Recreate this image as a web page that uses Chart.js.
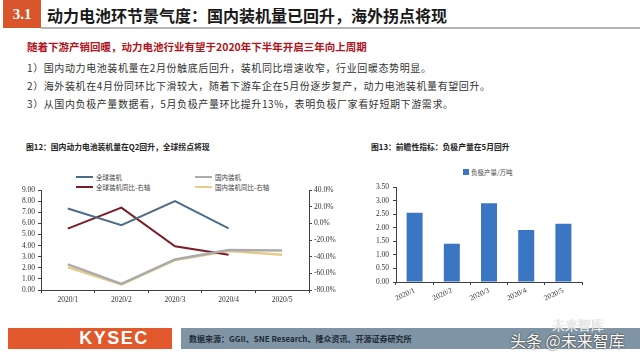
<!DOCTYPE html>
<html>
<head>
<meta charset="utf-8">
<script src="https://cdn.jsdelivr.net/npm/chart.js@4"></script>
<style>
  html, body { margin: 0; padding: 0; background: #fff; }
  #slide { position: relative; width: 640px; height: 360px; overflow: hidden; background: #fff;
    font-family: 'Noto Sans CJK SC', 'Liberation Serif', sans-serif; color: #222; }
  .abs { position: absolute; white-space: nowrap; }
  .secBox { left: 3px; top: 0; width: 38px; height: 28px; background: #d9552c; color: #fff;
    font: bold 15px 'Liberation Serif', serif; line-height: 28px; text-align: center; }
  .rule { left: 41px; top: 27px; width: 599px; height: 2px; background: #b5b5b5; }
  .title { left: 47px; top: 4px; font-size: 16px; font-weight: bold; color: #1a1a1a; line-height: 22px; }
  .lead { left: 27px; top: 40px; font-size: 10.5px; font-weight: bold; color: #b0141c; line-height: 14px; }
  .pt { left: 27px; font-size: 10px; color: #333; line-height: 14px; letter-spacing: 0.6px; }
  .figt { font-size: 7.8px; font-weight: bold; color: #222; line-height: 12px; }
  .lg { font-size: 6.5px; color: #444; line-height: 8px; }
  .sw { position: absolute; height: 2px; width: 17px; }
  canvas { position: absolute; }
  .kbox { left: 8px; top: 328px; width: 164px; height: 21px; background: #e0582b; color: #fff;
    font: bold 18px 'Liberation Sans', sans-serif; line-height: 21px; text-align: center; letter-spacing: 1.5px; }
  .kbox span { position: relative; left: 24px; }
  .src { left: 181px; top: 328px; width: 459px; height: 21px; background: #7f94a4; }
  .srct { left: 189px; top: 333px; font-size: 8px; font-weight: bold; color: #1e2a36; line-height: 11px; }
  .wm { left: 510px; top: 330px; font-size: 16px; color: #fff; line-height: 20px;
    text-shadow: 0 0 2px #333, 0 0 1px #333; }
  .wm2 { left: 552px; top: 317px; font-size: 13px; color: rgba(255,255,255,0.85); line-height: 16px;
    text-shadow: 0 0 1px #999; }
</style>
</head>
<body>
<div id="slide">
  <div class="abs secBox">3.1</div>
  <div class="abs rule"></div>
  <div class="abs title">动力电池环节景气度：国内装机量已回升，海外拐点将现</div>

  <div class="abs lead">随着下游产销回暖，动力电池行业有望于2020年下半年开启三年向上周期</div>
  <div class="abs pt" style="top:61px">1）国内动力电池装机量在2月份触底后回升，装机同比增速收窄，行业回暖态势明显。</div>
  <div class="abs pt" style="top:79px">2）海外装机在4月份同环比下滑较大，随着下游车企在5月份逐步复产，动力电池装机量有望回升。</div>
  <div class="abs pt" style="top:97px">3）从国内负极产量数据看，5月负极产量环比提升13%，表明负极厂家看好短期下游需求。</div>

  <div class="abs figt" style="left:26px;top:141px">图12：国内动力电池装机量在Q2回升，全球拐点将现</div>
  <div class="abs figt" style="left:371px;top:141px">图13：前瞻性指标：负极产量在5月回升</div>

  <div id="legendLeft"></div>
  <div id="legendRight"></div>

  <canvas id="lineChart" width="345" height="128" style="left:0;top:180px;width:345px;height:128px"></canvas>
  <canvas id="barChart" width="260" height="133" style="left:350px;top:177px;width:260px;height:133px"></canvas>

  <div class="abs kbox"><span>KYSEC</span></div>
  <div class="abs src"></div>
  <div class="abs srct">数据来源：GGII、SNE Research、隆众资讯、开源证券研究所</div>
  <div class="abs wm2">未来智库</div>
  <div class="abs wm">头条 @未来智库</div>
</div>

<script>
// ---- data ----
const months = ['2020/1', '2020/2', '2020/3', '2020/4', '2020/5'];
const globalInstall = [7.33, 5.83, 8.0, 5.55, null];     // 全球装机 (GWh)
const domesticInstall = [2.3, 0.55, 2.75, 3.6, 3.55];    // 国内装机 (GWh)
const globalYoY = [-6.4, 18.8, -27.6, -37.6, null];      // 全球装机同比 (%)
const domesticYoY = [-52.8, -73.2, -44.0, -33.2, -37.6]; // 国内装机同比 (%)
const anodeOutput = [2.55, 1.41, 2.9, 1.92, 2.15];       // 负极产量/万吨

const lineNames = ['全球装机', '国内装机', '全球装机同比-右轴', '国内装机同比-右轴'];
const barName = '负极产量/万吨';

const BLUEGRAY = '#4e6c88', GRAY = '#ababab', DARKRED = '#7a1c26', SAND = '#e6cc88', BAR = '#3a76c2';
const AXIS = '#404040';
const tickFont = { family: "'Liberation Serif', serif", size: 7.5 };

// ---- HTML legends ----
function legendItem(parent, x, y, color, text, square) {
  const sw = document.createElement('div');
  sw.className = 'sw';
  if (square) { sw.style.cssText = `left:${x}px;top:${y - 3}px;width:6px;height:6px;background:${color}`; }
  else { sw.style.cssText = `left:${x}px;top:${y - 1}px;background:${color}`; }
  parent.appendChild(sw);
  const t = document.createElement('div');
  t.className = 'abs lg';
  t.style.left = (x + (square ? 8 : 20)) + 'px';
  t.style.top = (y - 4) + 'px';
  t.textContent = text;
  parent.appendChild(t);
}
const legL = document.getElementById('legendLeft');
const lineColors = [BLUEGRAY, GRAY, DARKRED, SAND];
lineNames.forEach((n, i) => legendItem(legL, i % 2 ? 195 : 76, i < 2 ? 177 : 187, lineColors[i], n, false));
legendItem(document.getElementById('legendRight'), 463, 172, BAR, barName, true);

// ---- left: line chart, dual axis ----
new Chart(document.getElementById('lineChart'), {
  type: 'line',
  data: {
    labels: months,
    datasets: [
      { label: lineNames[0], data: globalInstall, yAxisID: 'y', borderColor: BLUEGRAY, borderWidth: 2 },
      { label: lineNames[1], data: domesticInstall, yAxisID: 'y', borderColor: GRAY, borderWidth: 2.5 },
      { label: lineNames[2], data: globalYoY, yAxisID: 'y1', borderColor: DARKRED, borderWidth: 2 },
      { label: lineNames[3], data: domesticYoY, yAxisID: 'y1', borderColor: SAND, borderWidth: 2.5 },
    ],
  },
  options: {
    responsive: false, animation: false,
    layout: { padding: { top: 10, left: 0, right: 0, bottom: 0 } },
    elements: { point: { radius: 0 }, line: { tension: 0 } },
    plugins: { legend: { display: false }, tooltip: { enabled: false } },
    scales: {
      x: {
        offset: true,
        grid: { offset: true, drawOnChartArea: false, tickLength: 3, color: AXIS },
        border: { color: AXIS },
        ticks: { font: tickFont, color: '#333', padding: 3, maxRotation: 0 },
        afterFit: (s) => { s.height = 18; },
      },
      y: {
        position: 'left', min: 0, max: 9,
        grid: { drawOnChartArea: false, tickLength: 3, color: AXIS },
        border: { color: AXIS },
        ticks: { stepSize: 1, autoSkip: false, font: tickFont, color: '#333', padding: 3, callback: (v) => v.toFixed(2) },
        afterFit: (s) => { s.width = 41; },
      },
      y1: {
        position: 'right', min: -80, max: 40,
        grid: { drawOnChartArea: false, tickLength: 3, color: AXIS },
        border: { color: AXIS },
        ticks: { stepSize: 20, autoSkip: false, font: tickFont, color: '#333', padding: 2, callback: (v) => v.toFixed(1) + '%' },
        afterFit: (s) => { s.width = 36; },
      },
    },
  },
});

// ---- right: bar chart ----
new Chart(document.getElementById('barChart'), {
  type: 'bar',
  data: {
    labels: months,
    datasets: [{ label: barName, data: anodeOutput, backgroundColor: BAR, categoryPercentage: 1, barPercentage: 0.43 }],
  },
  options: {
    responsive: false, animation: false,
    layout: { padding: { top: 10, left: 0, right: 28, bottom: 0 } },
    plugins: { legend: { display: false }, tooltip: { enabled: false } },
    scales: {
      x: {
        grid: { offset: true, drawOnChartArea: false, tickLength: 3, color: AXIS },
        border: { color: AXIS },
        ticks: { font: tickFont, color: '#333', padding: 1, minRotation: 25, maxRotation: 25 },
        afterFit: (s) => { s.height = 28; },
      },
      y: {
        min: 0, max: 3.5,
        grid: { drawOnChartArea: false, tickLength: 3, color: AXIS },
        border: { color: AXIS },
        ticks: { stepSize: 0.5, autoSkip: false, font: tickFont, color: '#333', padding: 4, callback: (v) => v.toFixed(2) },
        afterFit: (s) => { s.width = 46; },
      },
    },
  },
});
</script>
</body>
</html>
